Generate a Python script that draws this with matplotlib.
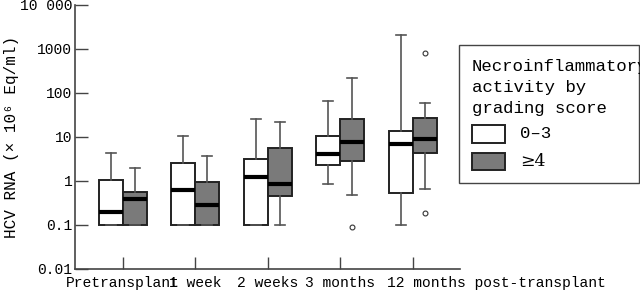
import numpy as np
import matplotlib.pyplot as plt
from matplotlib.patches import Rectangle

plt.rcParams['font.family'] = ['Liberation Mono', 'DejaVu Sans']

timepoints = ["Pretransplant", "1 week", "2 weeks", "3 months", "12 months"]

# grading score 0-3 (white boxes)
low_whislo = [0.1, 0.1, 0.1, 0.85, 0.1]
low_q1 = [0.1, 0.1, 0.1, 2.3, 0.53]
low_med = [0.2, 0.62, 1.25, 4.1, 7.0]
low_q3 = [1.05, 2.6, 3.2, 10.5, 13.7]
low_whishi = [4.3, 10.5, 26, 66, 2100]
low_fliers = [[], [], [], [], []]

# grading score >=4 (grey boxes)
high_whislo = [0.1, 0.1, 0.1, 0.48, 0.66]
high_q1 = [0.1, 0.1, 0.46, 2.8, 4.3]
high_med = [0.39, 0.29, 0.85, 7.7, 9.0]
high_q3 = [0.56, 0.95, 5.6, 26, 27]
high_whishi = [2.0, 3.7, 22, 220, 60]
high_fliers = [[], [], [], [0.09], [800, 0.19]]


def make_stats(whislo, q1, med, q3, whishi, fliers):
    out = []
    for i in range(len(med)):
        out.append(dict(whislo=whislo[i], q1=q1[i], med=med[i], q3=q3[i],
                        whishi=whishi[i], fliers=fliers[i]))
    return out


fig = plt.figure(figsize=(6.4, 2.9), dpi=100)
ax = fig.add_axes([75 / 640, 1 - 269 / 290, 385 / 640, 264 / 290])

x = np.arange(1, len(timepoints) + 1)
w = 0.33

common = dict(widths=w, capwidths=0.14, patch_artist=True, showfliers=True,
              boxprops=dict(edgecolor='#222222', linewidth=1.4),
              whiskerprops=dict(color='#555555', linewidth=1.2),
              capprops=dict(color='#555555', linewidth=1.2),
              medianprops=dict(color='black', linewidth=3),
              flierprops=dict(marker='o', markersize=3.5, markerfacecolor='white',
                              markeredgecolor='#333333', markeredgewidth=0.8))

b1 = ax.bxp(make_stats(low_whislo, low_q1, low_med, low_q3, low_whishi, low_fliers),
            positions=x - w / 2, **common)
b2 = ax.bxp(make_stats(high_whislo, high_q1, high_med, high_q3, high_whishi, high_fliers),
            positions=x + w / 2, **common)
for b in b1['boxes']:
    b.set_facecolor('white')
for b in b2['boxes']:
    b.set_facecolor('#7a7a7a')

ax.set_yscale('log')
ax.set_ylim(0.01, 10000)
ax.set_xlim(0.34, 5.65)
yt = [0.01, 0.1, 1, 10, 100, 1000, 10000]
ax.set_yticks(yt)
ax.set_yticklabels(["0.01", "0.1", "1", "10", "100", "1000", "10 000"])
ax.minorticks_off()
ax.set_xticks(x)
ax.set_xticklabels(timepoints[:-1] + [""])
ax.text(5 - 0.35, -0.025, "12 months post-transplant", transform=ax.get_xaxis_transform(),
        ha='left', va='top', fontsize=10.5)
ax.tick_params(axis='both', direction='in', length=9, width=1, color='#444444',
               labelsize=10.5)
ax.tick_params(axis='x', pad=5)
ax.tick_params(axis='y', pad=2)
for s in ['top', 'right']:
    ax.spines[s].set_visible(False)
for s in ['left', 'bottom']:
    ax.spines[s].set_color('#444444')
    ax.spines[s].set_linewidth(1.2)
ax.set_ylabel("HCV RNA (\u00d7 10\u2076 Eq/ml)", fontsize=11.5)
ax.yaxis.set_label_coords(-0.145, 0.5)

# legend drawn by hand so it sits like the original
fig.patches.append(Rectangle((459 / 640, 1 - 183 / 290), 180 / 640, 138 / 290,
                             transform=fig.transFigure, fill=False,
                             edgecolor='#444444', linewidth=1))
for i, line in enumerate(["Necroinflammatory", "activity by", "grading score"]):
    fig.text(472 / 640, 1 - (67 + 20.5 * i) / 290, line, fontsize=12.5,
             va='center', ha='left')
fig.patches.append(Rectangle((472 / 640, 1 - 143 / 290), 33 / 640, 18 / 290,
                             transform=fig.transFigure, facecolor='white',
                             edgecolor='#222222', linewidth=1.4))
fig.patches.append(Rectangle((472 / 640, 1 - 170 / 290), 33 / 640, 17 / 290,
                             transform=fig.transFigure, facecolor='#7a7a7a',
                             edgecolor='#222222', linewidth=1.4))
fig.text(520 / 640, 1 - 134 / 290, "0\u20133", fontsize=12.5, va='center', ha='left')
fig.text(520 / 640, 1 - 161 / 290, "\u22654", fontsize=12.5, va='center', ha='left',
         family=['DejaVu Serif'])

fig.savefig("out.png", dpi=100)
